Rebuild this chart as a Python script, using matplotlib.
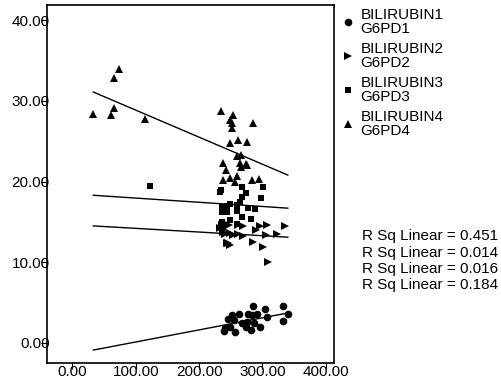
import numpy as np
import matplotlib
matplotlib.use("Agg")
import matplotlib.pyplot as plt
from matplotlib.lines import Line2D

plt.rcParams['font.family'] = ['Liberation Sans', 'DejaVu Sans']

# Group 1: circles (BILIRUBIN1 vs G6PD1)
g1_x = [285, 304, 332, 340, 332, 307, 296, 282, 274, 283, 291, 277, 263, 252,
        246, 255, 241, 239, 257, 249, 268, 275, 287]
g1_y = [4.6, 4.2, 4.6, 3.6, 2.7, 3.2, 2.0, 1.6, 2.0, 3.4, 3.6, 3.6, 3.6, 3.4,
        2.9, 2.8, 1.8, 1.5, 1.3, 2.0, 2.4, 2.6, 2.4]

# Group 2: right triangles (BILIRUBIN2 vs G6PD2)
g2_x = [247, 262, 270, 296, 307, 335, 290, 238, 241, 254, 262, 270, 305, 323,
        285, 301, 246, 249, 309, 233, 236, 244, 249, 238]
g2_y = [14.6, 14.6, 14.5, 14.5, 14.6, 14.5, 14.0, 13.7, 13.5, 13.4, 13.5, 13.2,
        13.4, 13.5, 12.5, 11.9, 12.4, 12.1, 10.0, 14.2, 14.6, 12.4, 13.6, 14.0]

# Group 3: squares (BILIRUBIN3 vs G6PD3)
g3_x = [123, 235, 233, 268, 301, 274, 268, 298, 265, 236, 244, 249, 260, 236,
        244, 260, 277, 288, 236, 249, 268, 282, 238, 260]
g3_y = [19.4, 18.9, 18.7, 19.3, 19.3, 18.6, 18.1, 18.0, 17.5, 16.9, 17.0, 17.2,
        17.1, 16.2, 16.2, 16.3, 16.7, 16.6, 15.0, 15.2, 15.6, 15.3, 14.4, 14.7]

# Group 4: up triangles (BILIRUBIN4 vs G6PD4)
g4_x = [33, 66, 74, 66, 61, 114, 235, 254, 249, 252, 249, 262, 275, 260, 238,
        265, 275, 243, 238, 249, 257, 252, 285, 266, 266, 274, 260, 283, 294]
g4_y = [28.4, 32.8, 33.9, 29.1, 28.2, 27.7, 28.7, 28.3, 27.6, 26.6, 24.8, 25.2,
        24.9, 23.2, 22.3, 22.3, 22.1, 21.4, 20.2, 20.5, 19.9, 27.2, 27.2, 23.3,
        21.8, 22.2, 20.7, 20.2, 20.3]

# linear fit lines (intercept, slope)
fit_intercepts = [-1.39, 14.65, 18.47, 32.21]
fit_slopes = [0.01498, -0.00456, -0.00521, -0.03355]

legend_labels = ['BILIRUBIN1\nG6PD1', 'BILIRUBIN2\nG6PD2',
                 'BILIRUBIN3\nG6PD3', 'BILIRUBIN4\nG6PD4']
r_sq = ['0.451', '0.014', '0.016', '0.184']

x_ticks = [0, 100, 200, 300, 400]
y_ticks = [0, 10, 20, 30, 40]

fig = plt.figure(figsize=(5.01, 3.83), dpi=100)
ax = fig.add_axes([0.0938, 0.0522, 0.573, 0.935])

groups = [(g1_x, g1_y, 'o', 5.5), (g2_x, g2_y, '>', 6),
          (g3_x, g3_y, 's', 4.8), (g4_x, g4_y, '^', 6)]
for x, y, m, ms in groups:
    ax.plot(x, y, linestyle='none', marker=m, markersize=ms, color='black',
            markeredgewidth=0)

# fit lines drawn across the full x range of the data
all_x = g1_x + g2_x + g3_x + g4_x
xs = np.array([min(all_x), max(all_x)])
for b, k in zip(fit_intercepts, fit_slopes):
    ax.plot(xs, b + k * xs, color='black', linewidth=1.0)

ax.set_xlim(-40, 413)
ax.set_ylim(-2.5, 41.9)
ax.set_xticks(x_ticks)
ax.set_yticks(y_ticks)
ax.set_xticklabels([f'{v:.2f}' for v in x_ticks])
ax.set_yticklabels([f'{v:.2f}' for v in y_ticks])
ax.tick_params(axis='x', direction='out', length=4, pad=-2.5, labelsize=11)
ax.tick_params(axis='y', direction='out', length=4, pad=-6, labelsize=11)
for s in ax.spines.values():
    s.set_linewidth(1.2)

# legend to the right of the plot
handles = [Line2D([], [], linestyle='none', marker=m, markersize=ms,
                  color='black', markeredgewidth=0)
           for _, _, m, ms in groups]
leg = fig.legend(handles, legend_labels, loc='upper left',
                 bbox_to_anchor=(0.662, 1.012), frameon=False, fontsize=11,
                 handlelength=0.6, handletextpad=0.5, labelspacing=0.4,
                 borderpad=0.3)
for t in leg.get_texts():
    t.set_multialignment('left')
    t.set_linespacing(1.0)

for i, r in enumerate(r_sq):
    fig.text(0.722, 1 - (236 + 16.5 * i) / 383, f'R Sq Linear = {r}',
             fontsize=11, va='center', ha='left')

fig.savefig('out.png', dpi=100)
